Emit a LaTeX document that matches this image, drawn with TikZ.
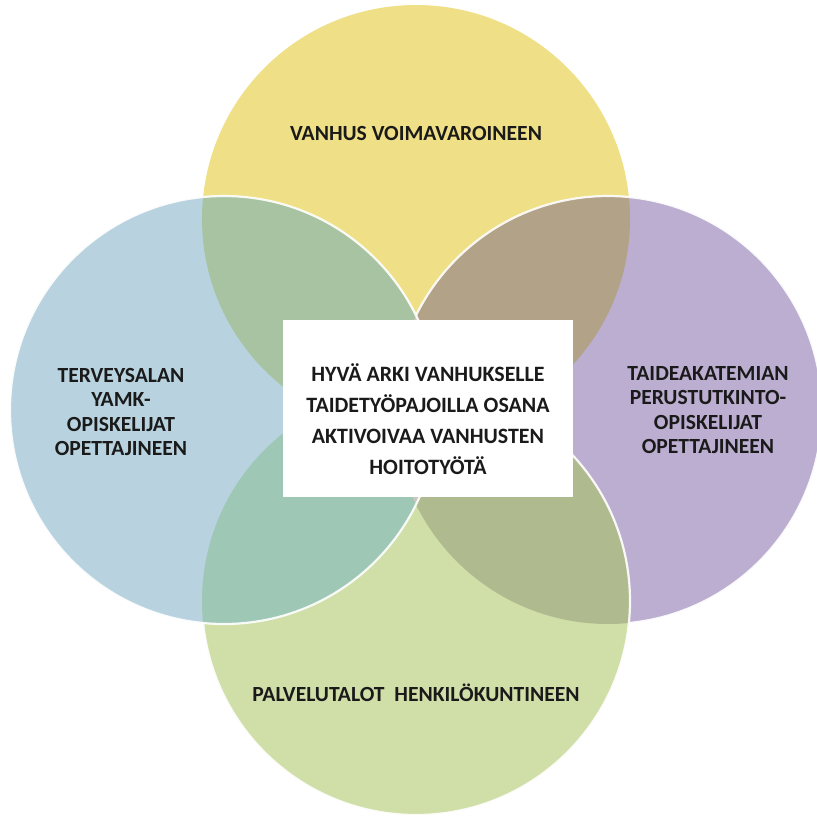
\documentclass[tikz,border=0pt]{standalone}
\usepackage{fontspec}
\setmainfont{Carlito}
\definecolor{cY}{HTML}{EFDF86}
\definecolor{cB}{HTML}{B8D3DF}
\definecolor{cP}{HTML}{BCAED0}
\definecolor{cG}{HTML}{D0DEA8}
\definecolor{cYB}{HTML}{A8C3A2}
\definecolor{cYP}{HTML}{B2A288}
\definecolor{cBG}{HTML}{9EC7B5}
\definecolor{cPG}{HTML}{AFBB8E}
\definecolor{cBP}{HTML}{C9C6BC}
\definecolor{txt}{HTML}{1A1A1A}
\tikzset{
  rim/.style={draw=white, line width=2.2pt, draw opacity=0.9},
  lbl/.style={text=txt, align=center, font=\bfseries\fontsize{21.6}{24.5}\selectfont, inner sep=0pt},
  boxlbl/.style={text=txt, align=center, font=\bfseries\fontsize{21.9}{31}\selectfont, inner sep=0pt}
}
\begin{document}
\begin{tikzpicture}[x=1pt,y=-1pt]
\useasboundingbox (0,0) rectangle (817,823);
\def\RR{214pt}
\coordinate (cy) at (416,219);
\coordinate (cb) at (224,410);
\coordinate (cp) at (608,410);
\coordinate (cg) at (416,601);
% yellow
\fill[cY] (cy) circle[radius=\RR];
% purple
\fill[cP] (cp) circle[radius=\RR];
\begin{scope}\clip (cy) circle[radius=\RR]; \fill[cYP] (cp) circle[radius=\RR];\end{scope}
\draw[rim] (cp) circle[radius=\RR];
% green
\fill[cG] (cg) circle[radius=\RR];
\begin{scope}\clip (cp) circle[radius=\RR]; \fill[cPG] (cg) circle[radius=\RR];\end{scope}
\draw[rim] (cg) circle[radius=\RR];
% blue
\fill[cB] (cb) circle[radius=\RR];
\begin{scope}\clip (cy) circle[radius=\RR]; \fill[cYB] (cb) circle[radius=\RR];\end{scope}
\begin{scope}\clip (cg) circle[radius=\RR]; \fill[cBG] (cb) circle[radius=\RR];\end{scope}
\begin{scope}\clip (cp) circle[radius=\RR]; \fill[cBP] (cb) circle[radius=\RR];\end{scope}
\draw[rim] (cb) circle[radius=\RR];
% centre box
\fill[white] (283,320) rectangle (573,497);
\node[boxlbl] (centre) at (428,419) {HYVÄ ARKI VANHUKSELLE\\TAIDETYÖPAJOILLA OSANA\\AKTIVOIVAA VANHUSTEN\\HOITOTYÖTÄ};
\node[lbl] (top) at (416,133) {VANHUS VOIMAVAROINEEN};
\node[lbl] (left) at (121,412) {TERVEYSALAN\\YAMK-\\OPISKELIJAT\\OPETTAJINEEN};
\node[lbl] (right) at (708,410) {TAIDEAKATEMIAN\\PERUSTUTKINTO-\\OPISKELIJAT\\OPETTAJINEEN};
\node[lbl] (bottom) at (416,693) {PALVELUTALOT\ \ HENKILÖKUNTINEEN};
\end{tikzpicture}
\end{document}
